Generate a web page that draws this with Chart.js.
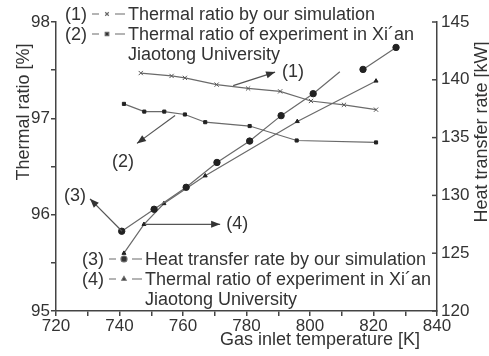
<!DOCTYPE html>
<html lang="en">
<head>
  <meta charset="UTF-8" />
  <title>Thermal ratio and heat transfer rate</title>
  <script src="https://cdn.jsdelivr.net/npm/chart.js"></script>
  <style>
    html, body { margin: 0; padding: 0; background: #fff; }
    #wrap { width: 489px; height: 356px; }
  </style>
</head>
<body>
  <div id="wrap"><canvas id="chart" width="489" height="356"></canvas></div>

  <script>
    // (1) thermal ratio by our simulation [%]
    const simTemp = [746.7, 756.4, 760.6, 770.6, 780.5, 790.6, 800.3, 810.7, 820.8];
    const simRatio = [97.47, 97.44, 97.42, 97.35, 97.31, 97.28, 97.18, 97.14, 97.09];

    // (2) thermal ratio of experiment in Xi'an Jiaotong University [%]
    const expTemp = [741.4, 747.8, 754.1, 760.6, 767.0, 781.0, 795.8, 820.8];
    const expRatio = [97.15, 97.07, 97.07, 97.04, 96.96, 96.92, 96.77, 96.75];

    // (3) heat transfer rate by our simulation [kW]
    const heatTemp = [740.7, 750.9, 761.0, 770.7, 781.0, 790.9, 801.0, 809.4, 816.7, 827.1];
    const heatRate = [126.9, 128.8, 130.7, 132.85, 134.7, 136.9, 138.8, 140.7, 140.9, 142.8];
    const heatLineEnd = 809.4; // line stops here, no marker

    // (4) heat transfer rate of experiment [kW]
    const heatExpTemp = [741.4, 747.7, 754.0, 767.0, 796.0, 820.8];
    const heatExpRate = [125.0, 127.5, 129.3, 131.7, 136.4, 139.9];

    const xTicks = [720, 740, 760, 780, 800, 820, 840];
    const ratioTicks = [95, 96, 97, 98];
    const rateTicks = [120, 125, 130, 135, 140, 145];

    const legendTop = [
      ['(1)', 'crossRot', 'Thermal ratio by our simulation'],
      ['(2)', 'rect', 'Thermal ratio of experiment in Xi\u00b4an', 'Jiaotong University']
    ];
    const legendBottom = [
      ['(3)', 'circle', 'Heat transfer rate by our simulation'],
      ['(4)', 'triangle', 'Thermal ratio of experiment in Xi\u00b4an', 'Jiaotong University']
    ];

    // arrows: [label, axis, fromX, fromY, toX, toY]
    const arrows = [
      ['(1)', 'y', 775.8, 97.34, 789.0, 97.48],
      ['(2)', 'y', 757.5, 97.03, 745.5, 96.74],
      ['(3)', 'y2', 740.8, 126.9, 730.7, 129.7],
      ['(4)', 'y2', 748.0, 127.5, 771.7, 127.5]
    ];

    const FONT = "'Liberation Sans', Arial, sans-serif";
    const INK = '#333';
    const LINE = '#6a6a6a';

    const pts = (xs, ys) => xs.map((x, i) => ({ x, y: ys[i] }));

    const heatData = [];
    heatTemp.forEach((x, i) => {
      heatData.push({ x, y: heatRate[i] });
      if (x === heatLineEnd) heatData.push({ x: x + 0.1, y: null });
    });

    function arrowHead(ctx, x1, y1, x2, y2) {
      const a = Math.atan2(y2 - y1, x2 - x1);
      const len = 9, w = 3.5;
      ctx.beginPath();
      ctx.moveTo(x2, y2);
      ctx.lineTo(x2 - len * Math.cos(a) + w * Math.sin(a), y2 - len * Math.sin(a) - w * Math.cos(a));
      ctx.lineTo(x2 - len * Math.cos(a) - w * Math.sin(a), y2 - len * Math.sin(a) + w * Math.cos(a));
      ctx.closePath();
      ctx.fill();
    }

    function drawLegend(ctx, rows, x0, y0, lineGap) {
      let y = y0;
      rows.forEach(r => {
        ctx.fillStyle = INK;
        ctx.textAlign = 'left';
        ctx.fillText(r[0], x0, y);
        const my = y - 6;
        ctx.strokeStyle = LINE;
        ctx.lineWidth = 1.2;
        ctx.beginPath();
        ctx.moveTo(x0 + 27, my); ctx.lineTo(x0 + 34, my);
        ctx.moveTo(x0 + 50, my); ctx.lineTo(x0 + 60, my);
        ctx.stroke();
        Chart.helpers.drawPoint(ctx, {
          pointStyle: r[1], radius: r[1] === 'circle' ? 3 : 2.5, borderWidth: 1
        }, x0 + 42, my);
        ctx.fillStyle = INK;
        ctx.fillText(r[2], x0 + 63, y);
        y += lineGap;
        if (r[3]) { ctx.fillText(r[3], x0 + 63, y); y += lineGap; }
      });
    }

    const decorPlugin = {
      id: 'decor',
      afterDraw(chart) {
        const ctx = chart.ctx;
        const { x, y, y2 } = chart.scales;
        const area = chart.chartArea;
        ctx.save();

        // inward ticks on the right axis
        ctx.strokeStyle = '#444';
        ctx.lineWidth = 1.5;
        rateTicks.forEach(v => {
          const py = y2.getPixelForValue(v);
          ctx.beginPath();
          ctx.moveTo(area.right - 5, py);
          ctx.lineTo(area.right, py);
          ctx.stroke();
        });

        // arrows
        ctx.strokeStyle = '#555';
        ctx.fillStyle = '#333';
        ctx.lineWidth = 1.2;
        arrows.forEach(a => {
          const sc = a[1] === 'y' ? y : y2;
          const x1 = x.getPixelForValue(a[2]), y1 = sc.getPixelForValue(a[3]);
          const xa = x.getPixelForValue(a[4]), ya = sc.getPixelForValue(a[5]);
          ctx.beginPath();
          ctx.moveTo(x1, y1);
          ctx.lineTo(xa, ya);
          ctx.stroke();
          arrowHead(ctx, x1, y1, xa, ya);
        });

        ctx.font = '18px ' + FONT;
        ctx.fillStyle = INK;
        ctx.textBaseline = 'middle';
        const lab = (i, dx, dy, align) => {
          const a = arrows[i];
          const sc = a[1] === 'y' ? y : y2;
          ctx.textAlign = align;
          ctx.fillText(a[0], x.getPixelForValue(a[4]) + dx, sc.getPixelForValue(a[5]) + dy);
        };
        lab(0, 7, 0, 'left');
        lab(1, -14, 19, 'center');
        lab(2, -15, -3, 'center');
        lab(3, 6, 0, 'left');

        // legends
        ctx.textBaseline = 'alphabetic';
        drawLegend(ctx, legendTop, 65, 20, 20);
        drawLegend(ctx, legendBottom, 82, 265, 20);

        // axis titles
        ctx.fillStyle = INK;
        ctx.textAlign = 'center';
        ctx.fillText('Gas inlet temperature [K]', 320, 345);
        ctx.translate(29, 112);
        ctx.rotate(-Math.PI / 2);
        ctx.fillText('Thermal ratio [%]', 0, 0);
        ctx.restore();
        ctx.save();
        ctx.font = '18px ' + FONT;
        ctx.fillStyle = INK;
        ctx.textAlign = 'center';
        ctx.translate(487, 132);
        ctx.rotate(-Math.PI / 2);
        ctx.fillText('Heat transfer rate [kW]', 0, 0);
        ctx.restore();
      }
    };

    const baseSet = {
      showLine: true,
      borderColor: LINE,
      borderWidth: 1.2,
      pointBackgroundColor: '#222',
      pointBorderColor: '#222',
      pointBorderWidth: 1,
      spanGaps: false
    };

    new Chart(document.getElementById('chart'), {
      type: 'scatter',
      data: {
        datasets: [
          Object.assign({}, baseSet, {
            label: 'Thermal ratio by our simulation',
            data: pts(simTemp, simRatio), yAxisID: 'y',
            pointStyle: 'crossRot', pointRadius: 3, pointBorderColor: '#555'
          }),
          Object.assign({}, baseSet, {
            label: 'Thermal ratio of experiment',
            data: pts(expTemp, expRatio), yAxisID: 'y',
            pointStyle: 'rect', pointRadius: 2.2
          }),
          Object.assign({}, baseSet, {
            label: 'Heat transfer rate by our simulation',
            data: heatData, yAxisID: 'y2',
            pointStyle: 'circle',
            pointRadius: c => (c.raw && c.raw.x === heatLineEnd ? 0 : 3.2)
          }),
          Object.assign({}, baseSet, {
            label: 'Heat transfer rate of experiment',
            data: pts(heatExpTemp, heatExpRate), yAxisID: 'y2',
            pointStyle: 'triangle', pointRadius: 2.3
          })
        ]
      },
      options: {
        responsive: false,
        animation: false,
        layout: { padding: { top: 22, left: 0, right: 0, bottom: 0 } },
        plugins: { legend: { display: false }, tooltip: { enabled: false } },
        scales: {
          x: {
            type: 'linear', min: 720, max: 840,
            ticks: {
              stepSize: 10, padding: 0, color: INK,
              font: { family: FONT, size: 17 },
              callback: v => (xTicks.includes(v) ? String(v) : ''),
              maxRotation: 0, autoSkip: false
            },
            grid: { drawOnChartArea: false, tickLength: 5, color: '#444', lineWidth: 1.5 },
            border: { color: '#444', width: 1.5 },
            afterFit: s => { s.height = 45; }
          },
          y: {
            position: 'left', min: 95, max: 98,
            ticks: {
              stepSize: 0.5, padding: 1, color: INK,
              font: { family: FONT, size: 17 },
              callback: v => (ratioTicks.includes(v) ? String(v) : '')
            },
            grid: { drawOnChartArea: false, tickLength: 5, color: '#444', lineWidth: 1.5 },
            border: { color: '#444', width: 1.5 },
            afterFit: s => { s.width = 56; }
          },
          y2: {
            position: 'right', min: 120, max: 145,
            ticks: {
              stepSize: 5, padding: 4, color: INK,
              font: { family: FONT, size: 17 },
              callback: v => (rateTicks.includes(v) ? String(v) : '')
            },
            grid: { drawOnChartArea: false, drawTicks: false },
            border: { color: '#444', width: 1.5 },
            afterFit: s => { s.width = 52; }
          }
        }
      },
      plugins: [decorPlugin]
    });
  </script>
</body>
</html>
